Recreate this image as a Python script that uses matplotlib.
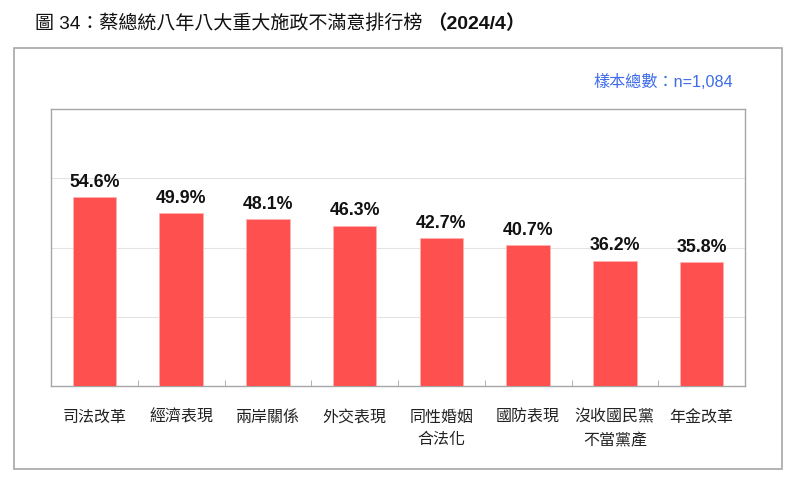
import matplotlib.pyplot as plt
from matplotlib.patches import Rectangle

plt.rcParams['font.family'] = ['Liberation Sans', 'Noto Sans CJK TC', 'DejaVu Sans']

categories = ["司法改革", "經濟表現", "兩岸關係", "外交表現", "同性婚姻\n合法化",
              "國防表現", "沒收國民黨\n不當黨產", "年金改革"]
values = [54.6, 49.9, 48.1, 46.3, 42.7, 40.7, 36.2, 35.8]

title_main = "圖 34：蔡總統八年八大重大施政不滿意排行榜"
title_date = "（2024/4）"
sample_text = "樣本總數：n=1,084"

fig = plt.figure(figsize=(8, 4.83), dpi=100)

# outer frame
fig.patches.append(Rectangle((14 / 800, 1 - 469 / 483), 768 / 800, 421 / 483,
                             transform=fig.transFigure, fill=False,
                             edgecolor='#a6a6a6', linewidth=1.2))

ax = fig.add_axes([51 / 800, 97 / 483, 694 / 800, 277 / 483])
x = list(range(len(categories)))
ax.bar(x, values, width=0.5, color='#ff5050', edgecolor='#ffb0b0', linewidth=0.6, zorder=3)

for xi, v in zip(x, values):
    ax.text(xi, v + 1.8, f"{v}%", ha='center', va='bottom', fontsize=12.8,
            fontweight='bold', color='#111111')

ax.set_xlim(-0.5, len(categories) - 0.5)
ax.set_ylim(0, 80)
ax.set_yticks([20, 40, 60])
ax.set_yticklabels([])
ax.tick_params(axis='y', length=0)
ax.grid(axis='y', color='#e3e3e3', linewidth=0.8, zorder=0)

ax.set_xticks(x)
ax.set_xticklabels(categories, fontsize=11.5, color='#222222')
for lab in ax.get_xticklabels():
    lab.set_linespacing(1.65)
    lab.set_verticalalignment('top')
ax.tick_params(axis='x', length=0, pad=17)
ax.set_xticks([i + 0.5 for i in range(len(categories) - 1)], minor=True)
ax.tick_params(axis='x', which='minor', direction='in', length=4, color='#a6a6a6')

for sp in ax.spines.values():
    sp.set_color('#a6a6a6')
    sp.set_linewidth(1.0)

fig.text(733 / 800, 1 - 82 / 483, sample_text, ha='right', va='center',
         fontsize=11.6, color='#3d6be8')

fig.text(35 / 800, 1 - 24 / 483, title_main, ha='left', va='center',
         fontsize=13.7, color='#111111')
fig.text(525 / 800, 1 - 24 / 483, title_date, ha='right', va='center',
         fontsize=14, fontweight='bold', color='#111111')

fig.savefig('out.png', dpi=100)
